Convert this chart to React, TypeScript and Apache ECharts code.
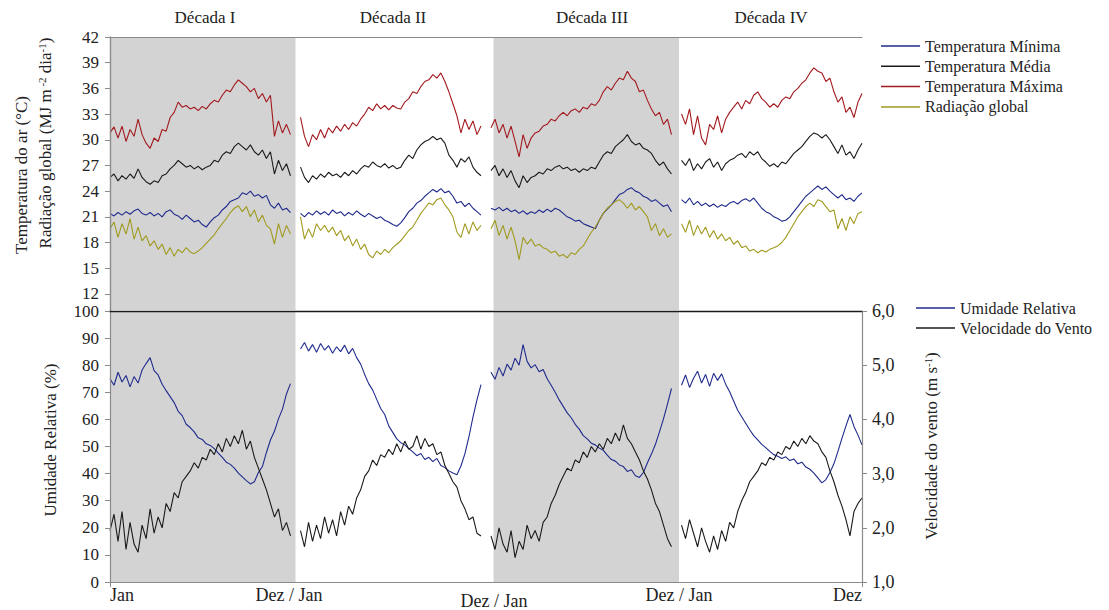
import React, { useEffect, useRef } from 'react';
import * as echarts from 'echarts';

// day of year at which each value was sampled inside a decade
const sampleDays = [0, 8, 16, 24, 32, 40, 48, 56, 64, 72, 80, 88, 96, 104, 112, 120, 128, 136, 144, 152, 160, 168, 176, 184, 192, 200, 208, 216, 224, 232, 240, 248, 256, 264, 272, 280, 288, 296, 304, 312, 320, 328, 336, 344, 352, 360];
const decadeSpanDays = 380;
const decadeTitles = ['Década I', 'Década II', 'Década III', 'Década IV'];
const xTickDays = [0, 357, 766, 1135, 1500];
const xTickLabels = ['Jan', 'Dez / Jan', 'Dez / Jan', 'Dez / Jan', 'Dez'];
const tempTicks = [12, 15, 18, 21, 24, 27, 30, 33, 36, 39, 42];
const shadedRanges = [[0, 370], [765, 1135]];

const tempMin = [
  [21.4, 21.1, 21.5, 21.2, 21.6, 21.3, 21.7, 21.9, 21.4, 21.2, 21.5, 21.1, 21.4, 21.0, 21.6, 21.8, 21.3, 21.1, 20.7, 21.2, 20.8, 20.4, 20.6, 20.1, 19.8, 20.4, 20.9, 21.2, 21.8, 22.2, 22.8, 23.0, 23.2, 23.8, 23.6, 24.0, 23.4, 23.6, 23.2, 23.5, 22.4, 22.0, 22.6, 21.8, 22.0, 21.5],
  [21.4, 21.0, 21.5, 21.2, 21.7, 21.3, 21.6, 21.2, 21.8, 21.4, 21.6, 21.1, 21.5, 21.2, 21.7, 21.3, 21.0, 21.4, 21.1, 20.8, 21.0, 20.6, 20.4, 20.1, 19.9, 20.3, 20.9, 21.6, 22.0, 22.6, 22.9, 23.4, 23.8, 24.2, 23.9, 24.3, 23.8, 24.0, 23.4, 22.6, 22.8, 22.2, 22.6, 22.0, 21.6, 21.2],
  [22.0, 21.8, 22.1, 21.7, 22.0, 21.6, 21.8, 21.4, 21.7, 21.3, 21.6, 21.4, 21.8, 21.5, 21.9, 21.6, 22.0, 21.8, 21.4, 21.0, 20.8, 20.5, 20.6, 20.2, 20.0, 19.8, 19.6, 20.6, 21.4, 21.9, 22.4, 23.0, 23.6, 23.8, 24.2, 24.4, 24.0, 23.8, 23.4, 23.2, 22.8, 23.0, 22.6, 22.2, 22.4, 21.6],
  [23.0, 22.6, 23.2, 22.4, 22.8, 22.3, 22.6, 22.2, 22.5, 22.1, 22.4, 22.2, 22.6, 22.8, 22.5, 22.9, 23.1, 22.8, 23.2, 22.6, 22.0, 21.6, 21.4, 21.0, 20.8, 20.5, 20.6, 21.0, 21.6, 22.2, 22.8, 23.4, 23.8, 24.2, 24.6, 24.2, 24.5, 24.0, 23.6, 23.2, 23.6, 23.0, 23.2, 22.8, 23.4, 23.8],
];

const tempMean = [
  [25.6, 26.0, 25.2, 25.8, 25.4, 26.0, 25.5, 26.6, 25.6, 25.1, 24.8, 25.2, 25.0, 25.8, 26.0, 26.6, 27.0, 27.6, 27.2, 26.8, 27.0, 26.6, 26.9, 26.5, 26.8, 27.0, 27.6, 27.4, 28.2, 28.6, 28.4, 29.2, 29.6, 29.2, 28.8, 29.4, 28.6, 28.2, 28.8, 27.8, 28.6, 26.0, 27.6, 26.4, 27.2, 25.8],
  [26.8, 25.6, 25.0, 25.8, 25.4, 26.0, 25.6, 26.2, 25.8, 26.0, 25.6, 26.2, 25.8, 26.4, 26.0, 26.6, 27.0, 26.8, 27.4, 27.0, 26.8, 27.2, 26.7, 27.0, 26.6, 26.8, 27.6, 28.2, 27.8, 28.8, 29.4, 29.8, 30.0, 30.4, 30.0, 30.2, 29.6, 28.2, 27.6, 26.8, 27.8, 27.4, 28.0, 26.8, 26.2, 25.8],
  [26.4, 27.0, 25.8, 26.6, 25.6, 26.4, 25.2, 24.4, 25.8, 25.0, 25.6, 25.8, 26.2, 26.0, 26.6, 26.4, 26.8, 27.0, 26.6, 26.8, 26.4, 26.6, 26.2, 26.6, 26.4, 26.8, 26.6, 27.4, 28.2, 28.6, 28.4, 29.2, 29.6, 30.0, 30.6, 29.8, 29.4, 29.6, 29.0, 28.8, 28.4, 27.6, 27.0, 27.4, 26.6, 26.0],
  [27.6, 27.0, 27.8, 26.4, 27.2, 26.6, 27.4, 27.8, 26.8, 27.4, 26.4, 27.2, 27.6, 27.8, 28.2, 28.4, 27.9, 28.6, 28.2, 28.6, 27.8, 27.4, 26.9, 27.2, 26.8, 27.4, 27.2, 27.8, 28.4, 28.8, 29.2, 29.8, 30.4, 30.8, 30.6, 30.2, 30.6, 30.0, 29.2, 28.4, 29.4, 28.2, 28.6, 27.8, 28.8, 29.6],
];

const tempMax = [
  [30.8, 31.5, 30.2, 31.6, 29.8, 31.2, 30.4, 32.4, 30.6, 29.6, 29.0, 30.2, 29.8, 31.2, 31.0, 32.6, 33.2, 34.4, 33.8, 34.0, 33.6, 33.8, 33.4, 33.9, 33.6, 34.2, 34.6, 34.4, 35.2, 35.8, 35.6, 36.4, 37.0, 36.6, 36.2, 35.6, 36.0, 34.8, 35.4, 34.4, 35.2, 30.4, 32.2, 30.8, 31.8, 30.6],
  [32.6, 30.4, 29.2, 30.6, 30.0, 31.2, 30.2, 31.4, 30.8, 31.6, 31.0, 31.8, 31.2, 32.0, 31.6, 32.4, 33.0, 33.8, 33.4, 34.2, 33.6, 34.0, 33.5, 34.0, 33.7, 33.6, 34.4, 34.8, 35.6, 35.4, 36.2, 36.8, 37.0, 37.6, 37.2, 37.8, 36.8, 35.6, 34.2, 32.8, 30.8, 32.4, 31.2, 32.2, 30.6, 31.6],
  [31.4, 32.4, 30.8, 31.8, 30.2, 31.6, 29.8, 28.0, 30.6, 29.0, 30.2, 30.8, 31.0, 31.6, 31.8, 32.4, 32.2, 32.8, 33.2, 32.8, 33.4, 33.6, 33.2, 33.8, 33.6, 34.2, 34.0, 34.6, 35.6, 36.2, 35.8, 36.6, 37.2, 37.0, 38.0, 37.2, 36.8, 35.6, 35.8, 34.6, 33.6, 32.8, 33.2, 31.8, 32.4, 30.6],
  [33.0, 31.8, 33.6, 30.6, 32.8, 30.2, 29.4, 31.8, 31.2, 32.8, 30.8, 32.4, 33.2, 33.8, 34.4, 33.6, 34.6, 34.2, 35.2, 35.6, 34.8, 34.4, 33.8, 34.2, 33.8, 34.6, 35.0, 34.8, 35.6, 36.0, 36.6, 37.0, 37.8, 38.4, 38.0, 37.8, 36.8, 37.2, 35.6, 34.4, 35.0, 33.2, 33.8, 32.6, 34.4, 35.4],
];

const radiation = [
  [19.6, 20.4, 18.6, 20.2, 19.0, 20.8, 18.4, 19.8, 18.2, 18.8, 17.6, 18.2, 17.2, 17.8, 16.6, 17.4, 16.4, 17.2, 16.8, 17.4, 16.9, 16.7, 17.0, 17.4, 17.9, 18.4, 18.9, 19.6, 20.2, 20.8, 21.5, 22.0, 22.3, 21.6, 22.2, 21.0, 21.8, 20.4, 21.2, 20.0, 19.6, 17.8, 20.2, 18.6, 20.0, 19.0],
  [21.0, 18.4, 19.6, 18.6, 20.2, 19.4, 20.0, 19.2, 19.8, 18.8, 19.4, 18.2, 18.8, 17.6, 18.4, 17.2, 17.8, 16.6, 16.2, 17.0, 16.6, 17.2, 16.8, 17.4, 17.8, 18.2, 18.8, 19.4, 19.8, 20.6, 21.4, 22.0, 22.6, 22.4, 23.0, 23.2, 22.4, 21.8, 21.0, 19.2, 18.6, 20.2, 19.0, 20.4, 19.4, 20.0],
  [19.6, 20.6, 18.8, 20.0, 18.4, 19.8, 18.2, 16.0, 18.6, 17.8, 18.4, 17.6, 17.8, 17.4, 17.2, 16.8, 17.0, 16.4, 16.6, 16.2, 16.8, 16.6, 17.2, 17.6, 18.4, 19.2, 19.8, 20.6, 21.4, 22.0, 22.4, 22.8, 23.0, 22.6, 22.0, 22.6, 21.8, 22.2, 21.6, 21.0, 19.4, 20.2, 18.8, 19.6, 18.6, 19.0],
  [20.2, 19.2, 20.6, 18.8, 20.0, 19.0, 19.8, 18.6, 19.4, 18.4, 19.0, 18.2, 18.6, 17.8, 18.2, 17.4, 17.6, 17.0, 17.2, 16.8, 17.1, 16.9, 17.2, 17.4, 17.6, 18.0, 18.6, 19.4, 20.2, 21.0, 21.6, 22.2, 22.6, 22.2, 23.0, 22.8, 22.2, 21.6, 21.8, 19.6, 20.8, 19.4, 21.0, 20.2, 21.4, 21.6],
];

const humidity = [
  [75.0, 72.6, 77.4, 73.8, 76.2, 72.0, 75.8, 73.4, 78.2, 80.6, 82.8, 78.0, 76.4, 73.0, 70.6, 68.4, 66.2, 63.0, 61.4, 58.2, 57.0, 55.4, 53.2, 52.6, 51.0, 50.4, 49.2, 47.6, 46.0, 44.2, 43.4, 42.0, 40.2, 38.8, 37.4, 36.2, 37.0, 40.4, 42.6, 47.8, 52.4, 55.6, 60.2, 63.8, 69.4, 73.2],
  [86.0, 88.4, 85.2, 87.6, 84.8, 88.0, 85.6, 87.2, 84.4, 86.8, 85.0, 87.4, 84.2, 86.2, 82.8, 80.4, 76.6, 73.2, 70.8, 67.4, 64.0, 61.8, 57.6, 55.2, 52.8, 51.4, 50.6, 49.2, 48.0, 46.6, 47.4, 45.2, 46.0, 44.4, 45.6, 43.0, 42.2, 41.0, 40.2, 39.6, 42.8, 47.4, 53.6, 60.8, 67.2, 72.8],
  [77.4, 74.8, 79.2, 76.0, 80.4, 78.2, 82.6, 80.0, 87.6, 81.4, 79.0, 80.2, 77.6, 78.4, 75.0, 72.6, 70.0, 67.2, 64.8, 62.4, 60.6, 58.2, 56.4, 54.0, 52.8, 51.2, 50.6, 49.4, 48.6, 46.8, 45.2, 44.6, 43.2, 42.6, 40.8, 41.4, 39.2, 38.6, 40.4, 44.0, 47.2, 50.8, 55.4, 60.2, 65.6, 71.4],
  [72.6, 76.4, 71.8, 75.2, 77.8, 73.4, 76.6, 72.2, 77.0, 74.4, 76.8, 73.0, 70.2, 66.8, 63.4, 61.0, 58.6, 56.2, 54.0, 52.4, 50.8, 49.6, 48.2, 47.0, 46.4, 45.6, 46.2, 44.8, 45.4, 43.6, 44.2, 42.4, 41.6, 40.2, 38.4, 36.6, 37.8, 40.4, 43.6, 48.2, 53.0, 57.6, 61.8, 57.4, 54.2, 50.6],
];

const windSpeed = [
  [1.95, 2.25, 1.75, 2.3, 1.6, 2.1, 1.7, 1.55, 2.05, 1.8, 2.35, 1.9, 2.2, 2.0, 2.45, 2.3, 2.65, 2.55, 2.85, 2.95, 3.05, 3.2, 3.1, 3.3, 3.25, 3.45, 3.35, 3.55, 3.4, 3.65, 3.5, 3.7, 3.55, 3.8, 3.45, 3.6, 3.3, 3.1, 2.9, 2.7, 2.45, 2.2, 2.35, 1.95, 2.1, 1.85],
  [1.95, 1.65, 2.1, 1.75, 2.05, 1.8, 2.2, 1.9, 2.15, 1.85, 2.3, 2.05, 2.4, 2.25, 2.55, 2.7, 2.95, 3.05, 3.25, 3.15, 3.35, 3.3, 3.45, 3.35, 3.55, 3.4, 3.6, 3.45, 3.5, 3.7, 3.45, 3.65, 3.5, 3.55, 3.35, 3.4, 3.15, 3.0, 2.85, 2.75, 2.5, 2.35, 2.15, 2.2, 1.9, 1.85],
  [1.85, 1.6, 2.0, 1.7, 1.55, 1.95, 1.45, 1.75, 1.6, 2.05, 1.8, 1.95, 1.75, 2.1, 2.2, 2.45, 2.6, 2.8, 2.95, 3.1, 3.05, 3.25, 3.2, 3.4, 3.3, 3.5, 3.4, 3.55, 3.45, 3.65, 3.55, 3.75, 3.6, 3.9, 3.65, 3.55, 3.4, 3.25, 3.05, 2.9, 2.7, 2.45, 2.3, 2.05, 1.8, 1.65],
  [2.05, 1.8, 2.15, 1.9, 1.65, 2.0, 1.75, 1.55, 1.85, 1.6, 1.95, 1.75, 2.1, 2.0, 2.3, 2.5, 2.65, 2.85, 2.95, 3.05, 3.2, 3.15, 3.3, 3.25, 3.4, 3.35, 3.5, 3.45, 3.6, 3.5, 3.65, 3.55, 3.7, 3.6, 3.55, 3.4, 3.3, 3.05, 2.85, 2.6, 2.4, 2.15, 1.85, 2.3, 2.45, 2.55],
];

const FONT = "'Liberation Serif', 'Times New Roman', serif";
const INK = '#222';
const AXIS_GRAY = '#8a8a8a';

function decadeSeries(name: string, decades: number[][], color: string, xAxisIndex: number, yAxisIndex: number) {
  return decades.map((vals, d) => ({
    type: 'line',
    name,
    xAxisIndex,
    yAxisIndex,
    data: vals.slice(0, sampleDays.length).map((v, i) => [d * decadeSpanDays + sampleDays[i], v]),
    showSymbol: false,
    symbol: 'none',
    silent: true,
    lineStyle: { color, width: 1.1 },
    itemStyle: { color },
    z: 3,
  }));
}

// shading band between yLow and yHigh (kept a hair off the divider so the divider line stays visible)
function shadeSeries(xAxisIndex: number, yAxisIndex: number, yLow: number, yHigh: number) {
  return {
    type: 'line',
    xAxisIndex,
    yAxisIndex,
    data: [],
    silent: true,
    z: 1,
    markArea: {
      silent: true,
      itemStyle: { color: '#d3d3d3' },
      data: shadedRanges.map(([a, b]) => [{ xAxis: a, yAxis: yLow }, { xAxis: b, yAxis: yHigh }]),
    },
  };
}

const supRich = {
  sup: { fontSize: 11, fontFamily: FONT, verticalAlign: 'top', fill: INK },
};

export default function App() {
  const ref = useRef<HTMLDivElement>(null);

  useEffect(() => {
    if (!ref.current) return;
    const chart = echarts.init(ref.current, null, { renderer: 'svg' });

    const axisLabelStyle = { fontFamily: FONT, fontSize: 17, color: INK };
    const legendText = { fontFamily: FONT, fontSize: 16, color: INK, lineHeight: 16 };

    const option: any = {
      animation: false,
      backgroundColor: '#fff',
      grid: [
        { left: 110, top: 37, width: 752, height: 274 },
        { left: 110, top: 311, width: 752, height: 272 },
      ],
      xAxis: [
        {
          gridIndex: 0, type: 'value', min: 0, max: 1500, position: 'bottom', z: 10,
          axisLine: { show: true, lineStyle: { color: '#1a1a1a', width: 1.3 } },
          axisTick: { show: false }, axisLabel: { show: false }, splitLine: { show: false },
        },
        {
          gridIndex: 0, type: 'value', min: 0, max: 1500, position: 'top', z: 10,
          axisLine: { show: true, lineStyle: { color: AXIS_GRAY, width: 1.2 } },
          axisTick: { show: false }, axisLabel: { show: false }, splitLine: { show: false },
        },
        {
          gridIndex: 1, type: 'value', min: 0, max: 1500, position: 'bottom', z: 10,
          axisLine: { show: true, lineStyle: { color: AXIS_GRAY, width: 1.2 } },
          axisTick: { show: true, customValues: [0, 1500], length: 5, lineStyle: { color: AXIS_GRAY } },
          splitLine: { show: false },
          axisLabel: {
            fontFamily: FONT, fontSize: 18, color: INK,
            margin: 4,
            customValues: xTickDays,
            alignMinLabel: 'left',
            alignMaxLabel: 'right',
            rich: { low: { fontFamily: FONT, fontSize: 18, color: INK, padding: [6, 0, 0, 0] } },
            formatter: (v: number) => {
              const i = xTickDays.indexOf(v);
              if (i < 0) return '';
              return i === 2 ? '{low|' + xTickLabels[i] + '}' : xTickLabels[i];
            },
          },
        },
      ],
      yAxis: [
        {
          gridIndex: 0, type: 'value', min: 10, max: 42, position: 'left', z: 10,
          axisLine: { show: true, lineStyle: { color: AXIS_GRAY, width: 1.2 } },
          axisTick: { show: true, length: 5, customValues: tempTicks, lineStyle: { color: AXIS_GRAY } },
          axisLabel: { ...axisLabelStyle, margin: 11, customValues: tempTicks },
          splitLine: { show: false },
        },
        {
          gridIndex: 0, type: 'value', min: 10, max: 42, position: 'right', z: 10,
          axisLine: { show: true, lineStyle: { color: AXIS_GRAY, width: 1.2 } },
          axisTick: { show: false }, axisLabel: { show: false }, splitLine: { show: false },
        },
        {
          gridIndex: 1, type: 'value', min: 0, max: 100, interval: 10, position: 'left', z: 10,
          axisLine: { show: true, lineStyle: { color: AXIS_GRAY, width: 1.2 } },
          axisTick: { show: true, length: 5, lineStyle: { color: AXIS_GRAY } },
          axisLabel: { ...axisLabelStyle, margin: 11 },
          splitLine: { show: false },
        },
        {
          gridIndex: 1, type: 'value', min: 1, max: 6, interval: 1, position: 'right', z: 10,
          axisLine: { show: true, lineStyle: { color: AXIS_GRAY, width: 1.2 } },
          axisTick: { show: true, length: 5, lineStyle: { color: AXIS_GRAY } },
          axisLabel: { ...axisLabelStyle, fontSize: 18, margin: 10, formatter: (v: number) => v.toFixed(1).replace('.', ',') },
          splitLine: { show: false },
        },
      ],
      legend: [
        {
          data: ['Temperatura Mínima', 'Temperatura Média', 'Temperatura Máxima', 'Radiação global'],
          orient: 'vertical', left: 876, top: 33, icon: 'rect', itemWidth: 39, itemHeight: 1.5, itemGap: 4.3,
          textStyle: legendText,
          selectedMode: false,
        },
        {
          data: ['Umidade Relativa', 'Velocidade do Vento'],
          orient: 'vertical', left: 911, top: 295, icon: 'rect', itemWidth: 39, itemHeight: 1.5, itemGap: 4,
          textStyle: legendText,
          selectedMode: false,
        },
      ],
      graphic: [
        ...decadeTitles.map((t, i) => ({
          type: 'text',
          x: [205, 393, 592, 771][i],
          y: 17,
          style: { text: t, fontFamily: FONT, fontSize: 17, fill: INK, align: 'center', verticalAlign: 'middle' },
        })),
        {
          type: 'text', x: 21, y: 175, rotation: Math.PI / 2,
          style: { text: 'Temperatura do ar (°C)', fontFamily: FONT, fontSize: 17, fill: INK, align: 'center', verticalAlign: 'middle' },
        },
        {
          type: 'text', x: 45, y: 143, rotation: Math.PI / 2,
          style: {
            text: 'Radiação global (MJ m{sup| -2} dia{sup|-1})',
            fontFamily: FONT, fontSize: 17, fill: INK, align: 'center', verticalAlign: 'middle', rich: supRich,
          },
        },
        {
          type: 'text', x: 50, y: 440, rotation: Math.PI / 2,
          style: { text: 'Umidade Relativa (%)', fontFamily: FONT, fontSize: 17, fill: INK, align: 'center', verticalAlign: 'middle' },
        },
        {
          type: 'text', x: 931, y: 446, rotation: Math.PI / 2,
          style: {
            text: 'Velocidade do vento (m s{sup|-1})',
            fontFamily: FONT, fontSize: 17, fill: INK, align: 'center', verticalAlign: 'middle', rich: supRich,
          },
        },
      ],
      series: [
        shadeSeries(0, 0, 10.12, 42),
        shadeSeries(2, 2, 0, 99.65),
        ...decadeSeries('Temperatura Mínima', tempMin, '#1f2a8c', 0, 0),
        ...decadeSeries('Temperatura Média', tempMean, '#1a1a1a', 0, 0),
        ...decadeSeries('Temperatura Máxima', tempMax, '#a3191d', 0, 0),
        ...decadeSeries('Radiação global', radiation, '#a09a1e', 0, 0),
        ...decadeSeries('Umidade Relativa', humidity, '#1f2a8c', 2, 2),
        ...decadeSeries('Velocidade do Vento', windSpeed, '#1a1a1a', 2, 3),
      ],
    };

    chart.setOption(option);
    return () => chart.dispose();
  }, []);

  return <div ref={ref} style={{ position: 'absolute', left: 0, top: 0, width: 1109, height: 610 }} />;
}
